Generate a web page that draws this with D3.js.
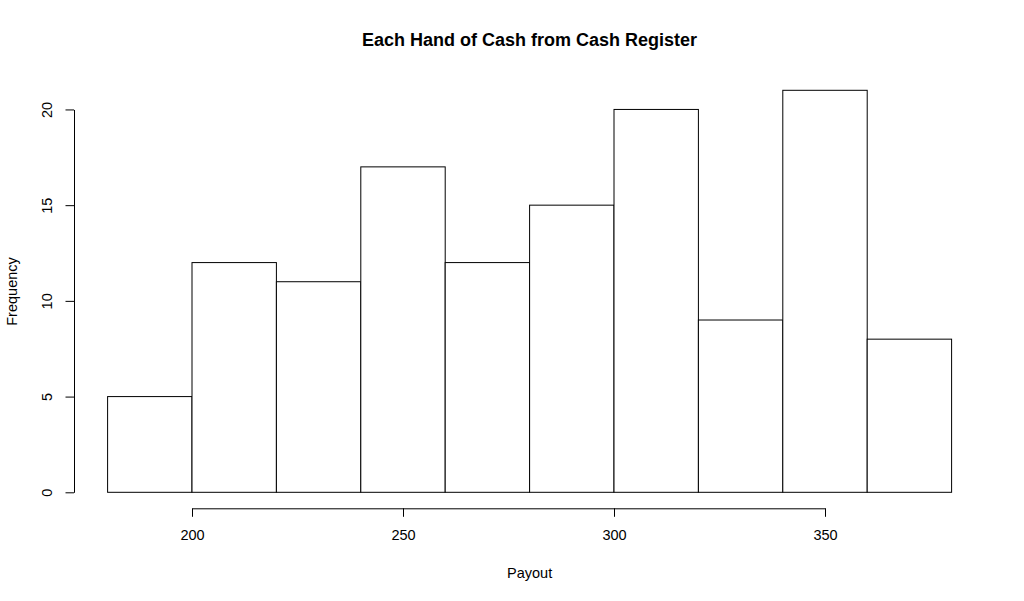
<!DOCTYPE html>
<html>
<head>
<meta charset="utf-8">
<script src="https://cdn.jsdelivr.net/npm/d3@7"></script>
<style>
  html, body { margin: 0; padding: 0; background: #fff; }
  svg { display: block; }
  text { font-family: "Liberation Sans", Arial, sans-serif; fill: #000; }
</style>
</head>
<body>
<svg id="chart" width="1024" height="601"></svg>
<script>
// Histogram data: bin edges and counts
const binStarts = [180, 200, 220, 240, 260, 280, 300, 320, 340, 360];
const binWidth = 20;
const counts = [5, 12, 11, 17, 12, 15, 20, 9, 21, 8];
const xTicks = [200, 250, 300, 350];
const yTicks = [0, 5, 10, 15, 20];
const title = "Each Hand of Cash from Cash Register";
const xLabel = "Payout";
const yLabel = "Frequency";

const svg = d3.select("#chart");

const x = d3.scaleLinear().domain([180, 380]).range([107.6, 951.6]);
const y = d3.scaleLinear().domain([0, 21]).range([492.3, 90.3]);

// bars
svg.append("g")
  .selectAll("rect")
  .data(binStarts.map((s, i) => ({ x0: s, x1: s + binWidth, n: counts[i] })))
  .join("rect")
  .attr("x", d => x(d.x0))
  .attr("y", d => y(d.n))
  .attr("width", d => x(d.x1) - x(d.x0))
  .attr("height", d => y(0) - y(d.n))
  .attr("fill", "#fff")
  .attr("stroke", "#000")
  .attr("stroke-width", 1);

// x axis
const xAxisScale = d3.scaleLinear()
  .domain([xTicks[0], xTicks[xTicks.length - 1]])
  .range([x(xTicks[0]), x(xTicks[xTicks.length - 1])]);
const gx = svg.append("g")
  .attr("transform", "translate(0,508.3)")
  .call(d3.axisBottom(xAxisScale).tickValues(xTicks).tickSize(8.5).tickSizeOuter(0).tickPadding(0).tickFormat(d3.format("d")));
gx.selectAll("path, line").attr("stroke", "#000");
gx.selectAll("text")
  .attr("y", 0).attr("dy", null)
  .attr("transform", "translate(0,31.7)")
  .style("font-size", "14.5px")
  .style("font-family", "'Liberation Sans', Arial, sans-serif");

// y axis
const yAxisScale = d3.scaleLinear()
  .domain([yTicks[0], yTicks[yTicks.length - 1]])
  .range([y(yTicks[0]), y(yTicks[yTicks.length - 1])]);
const gy = svg.append("g")
  .attr("transform", "translate(74,0)")
  .call(d3.axisLeft(yAxisScale).tickValues(yTicks).tickSize(8.5).tickSizeOuter(0).tickFormat(d3.format("d")));
gy.selectAll("path, line").attr("stroke", "#000");
gy.selectAll("text")
  .attr("x", null).attr("dy", null)
  .attr("transform", "translate(-22,0) rotate(-90)")
  .attr("text-anchor", "middle")
  .style("font-size", "14.5px")
  .style("font-family", "'Liberation Sans', Arial, sans-serif");

// title
svg.append("text")
  .attr("x", (x(180) + x(380)) / 2)
  .attr("y", 45.5)
  .attr("text-anchor", "middle")
  .style("font-size", "18px")
  .style("font-weight", "bold")
  .text(title);

// x label
svg.append("text")
  .attr("x", (x(180) + x(380)) / 2)
  .attr("y", 578)
  .attr("text-anchor", "middle")
  .style("font-size", "14.5px")
  .text(xLabel);

// y label
svg.append("text")
  .attr("transform", "translate(16.7,291.5) rotate(-90)")
  .attr("text-anchor", "middle")
  .style("font-size", "14.5px")
  .text(yLabel);
</script>
</body>
</html>
